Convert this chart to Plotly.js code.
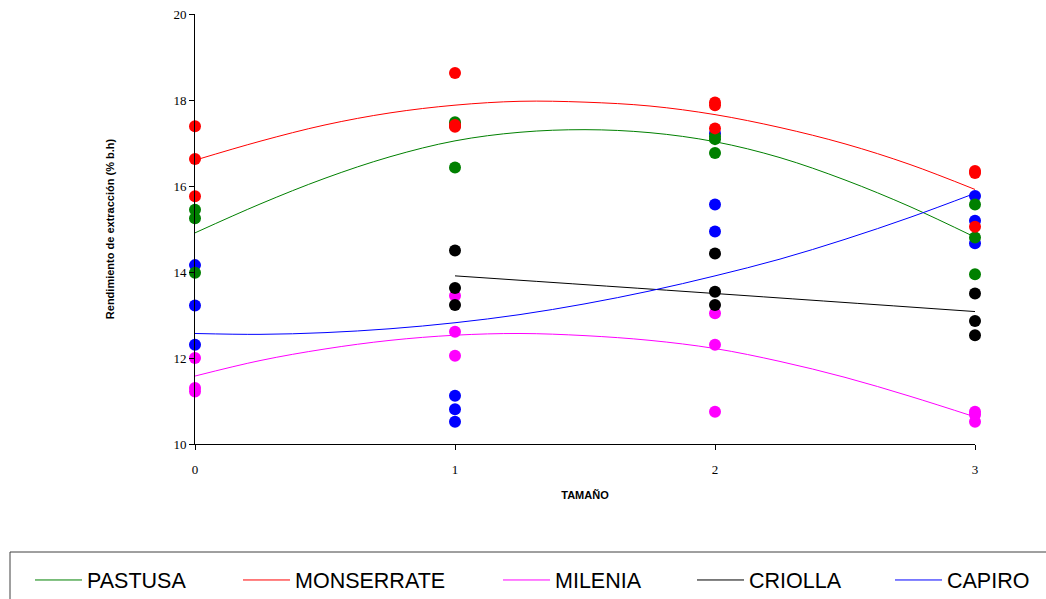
<!DOCTYPE html>
<html><head><meta charset="utf-8">
<script src="https://cdn.plot.ly/plotly-3.0.1.min.js"></script>
<style>html,body{margin:0;padding:0;background:#fff;}#chart{width:1046px;height:599px;}</style>
</head><body><div id="chart"></div>
<script>
// Tick values / categories
const sizeTicks = [0, 1, 2, 3];
const yTicks = [10, 12, 14, 16, 18, 20];

// Observed points (three replicates per size)
const pointX = [0,0,0, 1,1,1, 2,2,2, 3,3,3];
const pastusaPts    = [15.45,15.25,13.98, 17.48,17.40,16.43, 17.15,17.09,16.77, 15.57,14.80,13.95];
const monserratePts = [17.39,16.63,15.76, 18.63,17.42,17.38, 17.94,17.88,17.34, 16.35,16.30,15.05];
const mileniaPts    = [12.00,11.30,11.22, 13.45,12.61,12.05, 13.04,12.31,10.75, 10.75,10.68,10.52];
const capiroPts     = [14.16,13.22,12.31, 11.12,10.81,10.52, 17.22,15.57,14.94, 15.77,15.19,14.67];
const criollaX      = [1,1,1, 2,2,2, 3,3,3];
const criollaPts    = [14.50,13.63,13.23, 14.43,13.54,13.23, 13.50,12.86,12.53];

// Trend curves
const trendX = [0,0.25,0.5,0.75,1,1.25,1.5,1.75,2,2.25,2.5,2.75,3];
const pastusaTrend    = [14.91,15.58,16.18,16.68,17.05,17.25,17.31,17.24,17.03,16.66,16.14,15.52,14.81];
const monserrateTrend = [16.60,17.04,17.42,17.70,17.88,17.97,17.95,17.86,17.66,17.36,16.98,16.50,15.92];
const mileniaTrend    = [11.58,11.94,12.21,12.41,12.53,12.57,12.52,12.41,12.22,11.92,11.55,11.11,10.63];
const capiroTrend     = [12.57,12.55,12.59,12.68,12.82,13.01,13.26,13.56,13.91,14.30,14.76,15.27,15.83];
const criollaTrendX   = [1, 2, 3];
const criollaTrend    = [13.91, 13.50, 13.08];

const names = ['PASTUSA','MONSERRATE','MILENIA','CRIOLLA','CAPIRO'];
const colors = {PASTUSA:'#008000', MONSERRATE:'#FF0000', MILENIA:'#FF00FF', CRIOLLA:'#000000', CAPIRO:'#0000FF'};

function pts(x, y, c){
  return {x:x, y:y, type:'scatter', mode:'markers', showlegend:false, cliponaxis:false,
    marker:{color:c, size:12, line:{width:0}}, hoverinfo:'x+y'};
}
function trend(x, y, name, leg){
  return {x:x, y:y, type:'scatter', mode:'lines', name:name, legend:leg,
    line:{color:colors[name], width:1, shape:'spline'}, hoverinfo:'skip'};
}

const data = [
  pts(pointX, capiroPts, colors.CAPIRO),
  pts(pointX, mileniaPts, colors.MILENIA),
  pts(criollaX, criollaPts, colors.CRIOLLA),
  pts(pointX, pastusaPts, colors.PASTUSA),
  pts(pointX, monserratePts, colors.MONSERRATE),
  trend(trendX, pastusaTrend, 'PASTUSA', 'legend'),
  trend(trendX, monserrateTrend, 'MONSERRATE', 'legend2'),
  trend(trendX, mileniaTrend, 'MILENIA', 'legend3'),
  trend(criollaTrendX, criollaTrend, 'CRIOLLA', 'legend4'),
  trend(trendX, capiroTrend, 'CAPIRO', 'legend5')
];

const legFont = {family:'Liberation Sans, Arial, sans-serif', size:21.5, color:'#000'};
const legXs = [35, 243, 503, 697, 895];
function leg(px){
  return {xref:'container', yref:'container', x:(px-5)/1046, y:1-580/599, xanchor:'left', yanchor:'middle',
    orientation:'h', bgcolor:'rgba(0,0,0,0)', borderwidth:0, font:legFont, itemwidth:47, itemclick:false, itemdoubleclick:false};
}

const layout = {
  width:1046, height:599,
  margin:{l:195, r:71, t:14, b:155},
  paper_bgcolor:'#fff', plot_bgcolor:'#fff',
  showlegend:true,
  legend:leg(legXs[0]), legend2:leg(legXs[1]), legend3:leg(legXs[2]), legend4:leg(legXs[3]), legend5:leg(legXs[4]),
  xaxis:{range:[0,3], tickvals:sizeTicks, ticktext:sizeTicks.map(String), ticks:'outside', ticklen:5, tickcolor:'#000',
    showline:true, linecolor:'#000', linewidth:1, showgrid:false, zeroline:false, ticklabelstandoff:8,
    tickfont:{family:'Liberation Serif, Times New Roman, serif', size:13, color:'#000'},
    title:{text:'<b>TAMAÑO</b>', font:{family:'Liberation Sans, Arial, sans-serif', size:11, color:'#000'}, standoff:15}},
  yaxis:{range:[10,20], tickvals:yTicks, ticks:'outside', ticklen:5, tickcolor:'#000',
    showline:true, linecolor:'#000', linewidth:1, showgrid:false, zeroline:false,
    tickfont:{family:'Liberation Serif, Times New Roman, serif', size:13, color:'#000'},
    title:{text:'<b>Rendimiento de extracción (% b.h)</b>', font:{family:'Liberation Sans, Arial, sans-serif', size:11, color:'#000'}, standoff:56}},
  shapes:[{type:'rect', xref:'paper', yref:'paper', x0:(10-195)/780, x1:(1060-195)/780, y0:(444-610)/430, y1:(444-552)/430,
    line:{color:'#404040', width:1}, fillcolor:'rgba(0,0,0,0)', layer:'below'}]
};

Plotly.newPlot('chart', data, layout, {displayModeBar:false, staticPlot:true});
</script>
</body></html>
